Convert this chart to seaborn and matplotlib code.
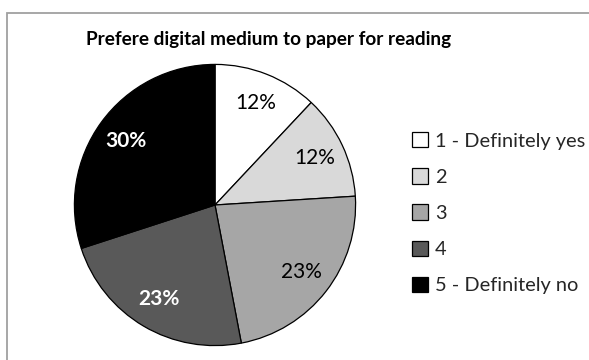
import matplotlib
matplotlib.use("Agg")
import matplotlib.pyplot as plt
from matplotlib.patches import Rectangle
import seaborn as sns

# Survey answers: preference for digital medium over paper
categories = ["1 - Definitely yes", "2", "3", "4", "5 - Definitely no"]
shares = [12, 12, 23, 23, 30]
slice_colors = ["#ffffff", "#d9d9d9", "#a6a6a6", "#595959", "#000000"]
label_colors = ["black", "black", "black", "white", "white"]
label_weights = ["normal", "normal", "normal", "bold", "bold"]
title = "Prefere digital medium to paper for reading"

sns.set_theme(style="white")
plt.rcParams["font.family"] = ["Lato", "DejaVu Sans"]

fig = plt.figure(figsize=(5.89, 3.6), dpi=100)
fig.patch.set_facecolor("white")

# chart-area frame (runs off the right and bottom edges)
fig.patches.append(Rectangle((6.5 / 589, -0.1), 1.0, 1 - 12.5 / 360 + 0.1,
                             transform=fig.transFigure, fill=False,
                             edgecolor="#a0a0a0", linewidth=1.3))

ax = fig.add_axes([73 / 589, 13 / 360, 284 / 589, 284 / 360])
palette = sns.color_palette(slice_colors)
wedges, texts, autotexts = ax.pie(
    shares, colors=palette, startangle=90, counterclock=False,
    autopct=lambda p: f"{p:.0f}%", pctdistance=0.78,
    wedgeprops=dict(edgecolor="black", linewidth=0.9),
    textprops=dict(fontsize=15),
)
for t, c, w in zip(autotexts, label_colors, label_weights):
    t.set_color(c)
    t.set_fontweight(w)
ax.set_xlim(-1.01, 1.01)
ax.set_ylim(-1.01, 1.01)
ax.set_aspect("equal")
ax.axis("off")

fig.text(269 / 589, 1 - 39 / 360, title, ha="center", va="center",
         fontsize=13.7, fontweight="bold", color="black")

leg = fig.legend(wedges, categories, loc="upper left",
                 bbox_to_anchor=(412 / 589, 1 - 132 / 360),
                 frameon=False, fontsize=14.4, handlelength=0.8,
                 handleheight=0.8, handletextpad=0.35, labelspacing=0.93,
                 borderaxespad=0, borderpad=0)
for h in leg.legend_handles:
    h.set_edgecolor("black")
    h.set_linewidth(0.9)

fig.savefig("out.png", dpi=100, facecolor="white")
